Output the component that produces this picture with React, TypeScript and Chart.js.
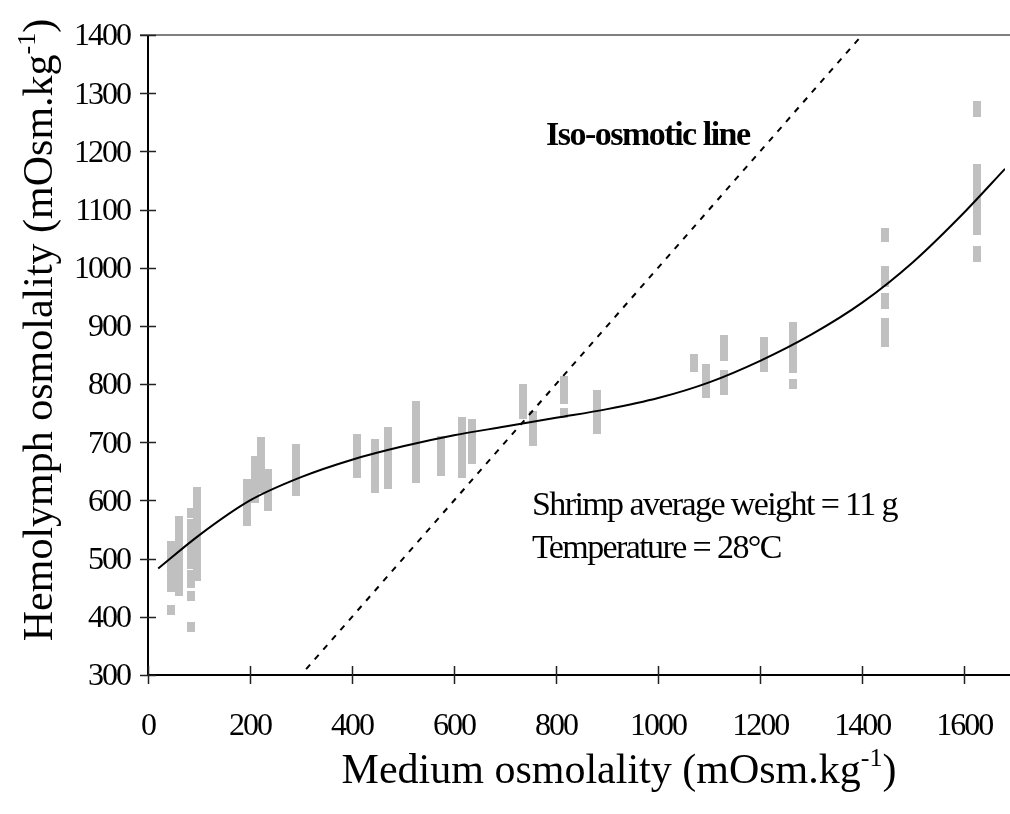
import React, { useEffect, useRef } from 'react';
import { Chart, registerables } from 'chart.js';

Chart.register(...registerables);

// ---- data ----
const X_TICKS = [0, 200, 400, 600, 800, 1000, 1200, 1400, 1600];
const Y_TICKS = [300, 400, 500, 600, 700, 800, 900, 1000, 1100, 1200, 1300, 1400];

const ISO_X = [310, 1400];
const ISO_Y = [310, 1400];

const FIT_X = [20, 100, 200, 300, 400, 500, 600, 700, 800, 900, 1000, 1100, 1200, 1300, 1400, 1500, 1600, 1680];
const FIT_Y = [483, 540, 600, 640, 670, 693, 712, 727, 742, 757, 776, 803, 840, 885, 940, 1010, 1095, 1170];

const COLUMN_X = [45, 60, 85, 97, 195, 210, 222, 235, 290, 410, 445, 470, 525, 575, 615, 635, 735, 755, 815, 880, 1070, 1093, 1130, 1208, 1265, 1445, 1625];
const COLUMN_Y = [
  [522, 505, 490, 478, 465, 452, 412],
  [565, 552, 538, 524, 510, 496, 482, 468, 455, 445],
  [578, 560, 542, 525, 508, 490, 472, 458, 435, 382],
  [615, 598, 582, 566, 550, 534, 518, 502, 486, 470],
  [628, 612, 596, 580, 565],
  [668, 652, 636, 620, 604],
  [700, 684, 668, 652, 636, 622],
  [646, 630, 614, 600, 590],
  [688, 672, 660, 645, 630, 616],
  [706, 690, 675, 660, 648],
  [697, 682, 667, 652, 637, 622],
  [718, 703, 688, 673, 658, 643, 628],
  [762, 745, 728, 712, 698, 684, 670, 655, 638],
  [702, 688, 675, 662, 650],
  [735, 720, 705, 690, 675, 660, 648],
  [732, 718, 703, 688, 672],
  [792, 778, 762, 748],
  [745, 732, 718, 703],
  [806, 790, 775, 750],
  [782, 768, 752, 737, 722],
  [843, 830],
  [826, 812, 798, 785],
  [875, 862, 848, 815, 800, 790],
  [873, 860, 845, 830],
  [898, 884, 870, 856, 842, 828, 800],
  [1060, 1052, 995, 985, 975, 948, 938, 905, 897, 882, 873],
  [1278, 1268, 1170, 1160, 1146, 1134, 1122, 1106, 1092, 1078, 1064, 1028, 1018],
];

const X_TITLE = 'Medium osmolality (mOsm.kg';
const Y_TITLE = 'Hemolymph osmolality (mOsm.kg';
const TITLE_SUP = '-1';
const TITLE_END = ')';
const ISO_LABEL = 'Iso-osmotic line';
const NOTE_LINES = ['Shrimp average weight = 11 g', 'Temperature = 28°C'];

const SERIF = '"Liberation Serif", "Times New Roman", serif';

function drawTitle(ctx: CanvasRenderingContext2D, cx: number, baseline: number, main: string) {
  const big = `42px ${SERIF}`;
  const small = `26px ${SERIF}`;
  ctx.font = big;
  const w1 = ctx.measureText(main).width;
  const w3 = ctx.measureText(TITLE_END).width;
  ctx.font = small;
  const w2 = ctx.measureText(TITLE_SUP).width;
  const total = w1 + w2 + w3;
  let x = cx - total / 2;
  ctx.textAlign = 'left';
  ctx.textBaseline = 'alphabetic';
  ctx.font = big;
  ctx.fillText(main, x, baseline);
  x += w1;
  ctx.font = small;
  ctx.fillText(TITLE_SUP, x, baseline - 17);
  x += w2;
  ctx.font = big;
  ctx.fillText(TITLE_END, x, baseline);
}

const decor = {
  id: 'decor',
  afterDatasetsDraw(chart: any) {
    const { ctx, chartArea: ca, scales } = chart;
    const xs = scales.x;
    const ys = scales.y;
    ctx.save();
    // top line
    ctx.strokeStyle = '#808080';
    ctx.lineWidth = 2;
    ctx.beginPath();
    ctx.moveTo(ca.left - 8, ca.top);
    ctx.lineTo(chart.width, ca.top);
    ctx.stroke();
    // axes
    ctx.strokeStyle = '#000';
    ctx.lineWidth = 2;
    ctx.beginPath();
    ctx.moveTo(ca.left, ca.top);
    ctx.lineTo(ca.left, ca.bottom + 1);
    ctx.moveTo(ca.left - 1, ca.bottom);
    ctx.lineTo(chart.width, ca.bottom);
    ctx.stroke();
    // tick marks
    ctx.lineWidth = 1.5;
    ctx.strokeStyle = '#222';
    ctx.beginPath();
    Y_TICKS.forEach((v) => {
      const py = Math.round(ys.getPixelForValue(v)) + 0.5;
      ctx.moveTo(ca.left - 8, py);
      ctx.lineTo(ca.left + 8, py);
    });
    X_TICKS.forEach((v) => {
      const px = Math.round(xs.getPixelForValue(v)) + 0.5;
      ctx.moveTo(px, ca.bottom - 9);
      ctx.lineTo(px, ca.bottom + 9);
    });
    ctx.stroke();
    // tick labels
    ctx.fillStyle = '#000';
    ctx.font = `32px ${SERIF}`;
    (ctx as any).letterSpacing = '-2px';
    ctx.textAlign = 'right';
    ctx.textBaseline = 'middle';
    Y_TICKS.forEach((v) => {
      ctx.fillText(String(v), ca.left - 18, ys.getPixelForValue(v) + 2);
    });
    ctx.textAlign = 'center';
    X_TICKS.forEach((v) => {
      ctx.fillText(String(v), xs.getPixelForValue(v), ca.bottom + 52);
    });
    // annotations
    ctx.textAlign = 'left';
    ctx.textBaseline = 'alphabetic';
    ctx.font = `bold 34px ${SERIF}`;
    (ctx as any).letterSpacing = '-1.5px';
    ctx.fillText(ISO_LABEL, 546, 145);
    ctx.font = `34px ${SERIF}`;
    (ctx as any).letterSpacing = '-1.6px';
    NOTE_LINES.forEach((t, i) => {
      ctx.fillText(t, 532, 515 + i * 43);
    });
    (ctx as any).letterSpacing = '0px';
    // axis titles
    drawTitle(ctx, 619, 783, X_TITLE);
    ctx.save();
    ctx.translate(52, 330);
    ctx.rotate(-Math.PI / 2);
    drawTitle(ctx, 0, 0, Y_TITLE);
    ctx.restore();
    ctx.restore();
  },
};

export default function App() {
  const ref = useRef<HTMLCanvasElement | null>(null);
  useEffect(() => {
    if (!ref.current) return;
    const sq = document.createElement('canvas');
    sq.width = 8;
    sq.height = 10;
    const sctx = sq.getContext('2d')!;
    sctx.fillStyle = '#c0c0c0';
    sctx.fillRect(0, 0, 8, 10);

    const pts: { x: number; y: number }[] = [];
    COLUMN_X.forEach((x, i) => COLUMN_Y[i].forEach((y) => pts.push({ x, y })));

    const chart = new Chart(ref.current, {
      type: 'scatter',
      data: {
        datasets: [
          {
            label: 'Iso-osmotic line',
            data: ISO_X.map((x, i) => ({ x, y: ISO_Y[i] })),
            showLine: true,
            borderColor: '#000',
            borderWidth: 2,
            borderDash: [6, 7],
            pointRadius: 0,
            order: 1,
          },
          {
            label: 'Fit',
            data: FIT_X.map((x, i) => ({ x, y: FIT_Y[i] })),
            showLine: true,
            borderColor: '#000',
            borderWidth: 2,
            cubicInterpolationMode: 'monotone',
            pointRadius: 0,
            order: 2,
          },
          {
            label: 'Hemolymph',
            data: pts,
            pointStyle: sq as any,
            pointRadius: 4,
            backgroundColor: '#c0c0c0',
            borderColor: '#c0c0c0',
            order: 3,
          },
        ],
      } as any,
      options: {
        animation: false,
        responsive: true,
        maintainAspectRatio: false,
        layout: { padding: { top: 35, right: 4, left: 0, bottom: 0 } },
        plugins: { legend: { display: false }, tooltip: { enabled: false } },
        scales: {
          x: {
            type: 'linear',
            min: 0,
            max: 1680,
            grid: { display: false },
            border: { display: false },
            ticks: { display: false },
            afterFit: (s: any) => { s.height = 139; },
          },
          y: {
            type: 'linear',
            min: 300,
            max: 1400,
            grid: { display: false },
            border: { display: false },
            ticks: { display: false },
            afterFit: (s: any) => { s.width = 148; },
          },
        },
      } as any,
      plugins: [decor],
    });
    return () => chart.destroy();
  }, []);

  return (
    <div style={{ position: 'absolute', left: 0, top: 0, width: 1010, height: 814, background: '#fff' }}>
      <canvas ref={ref} />
    </div>
  );
}
